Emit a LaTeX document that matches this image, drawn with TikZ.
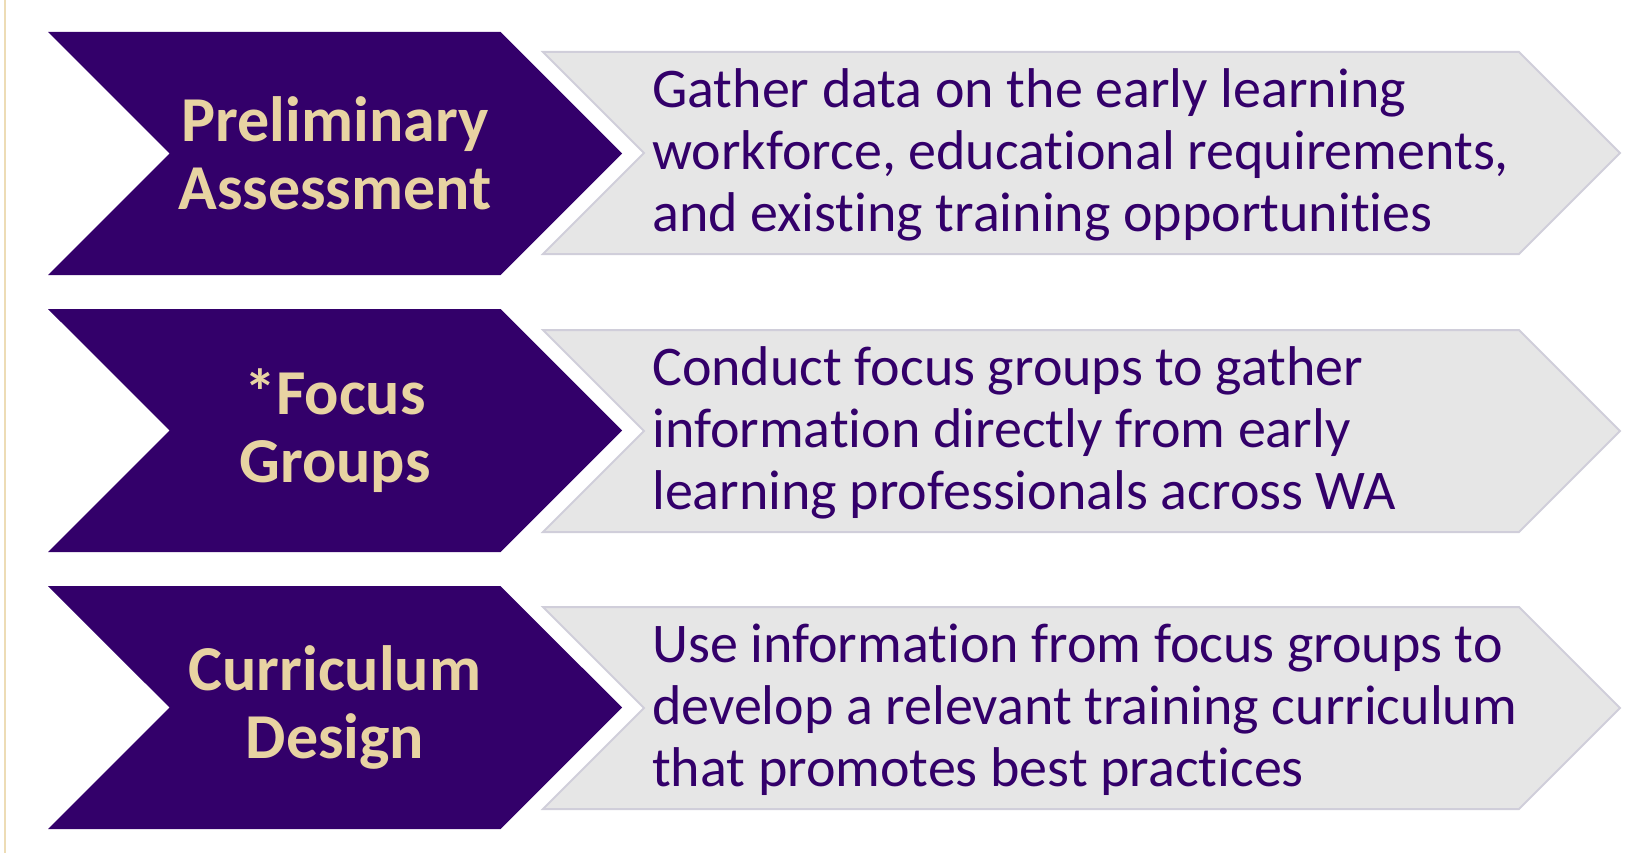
\documentclass[tikz,border=0pt]{standalone}
\usepackage{fontspec}
\setmainfont{Carlito}[Ligatures=NoCommon]
\usetikzlibrary{shapes.symbols}

\definecolor{uwpurple}{RGB}{51,0,106}
\definecolor{uwgold}{RGB}{232,211,162}
\definecolor{boxgray}{RGB}{230,230,230}
\definecolor{boxline}{RGB}{208,206,218}

\tikzset{
  phase/.style={signal, signal from=west, signal to=east, signal pointer angle=90,
    fill=uwpurple, minimum width=574pt, minimum height=243pt, inner sep=0pt,
    align=center, text=uwgold, font=\fontsize{64}{67.5}\selectfont\bfseries},
  detail/.style={signal, signal from=west, signal to=east, signal pointer angle=90,
    fill=boxgray, draw=boxline, line width=2pt, minimum width=1077pt, minimum height=202pt},
  detailtext/.style={anchor=west, inner sep=0pt, align=left, text=uwpurple,
    font=\fontsize{56}{62}\selectfont}
}

\begin{document}
\begin{tikzpicture}[x=1pt, y=-1pt]
    \useasboundingbox (0,0) rectangle (1627,853);
    \draw[uwgold!80, line width=1.5pt] (5,0) -- (5,853);

    % step 1
    \node (prelim) [phase] at (335,153.5) {Preliminary\\Assessment};
    \node (gather) [detail] at (1081.5,153) {};
    \node (gathertext) [detailtext] at (652,155) {Gather data on the early learning\\workforce, educational requirements,\\and existing training opportunities};

    % step 2
    \node (focus) [phase] at (335,430.5) {*Focus\\Groups};
    \node (conduct) [detail] at (1081.5,431) {};
    \node (conducttext) [detailtext] at (652,433) {Conduct focus groups to gather\\information directly from early\\learning professionals across WA};

    % step 3
    \node (design) [phase] at (335,707.5) {Curriculum\\Design};
    \node (develop) [detail] at (1081.5,708) {};
    \node (developtext) [detailtext] at (652,710) {Use information from focus groups to\\develop a relevant training curriculum\\that promotes best practices};
\end{tikzpicture}
\end{document}
